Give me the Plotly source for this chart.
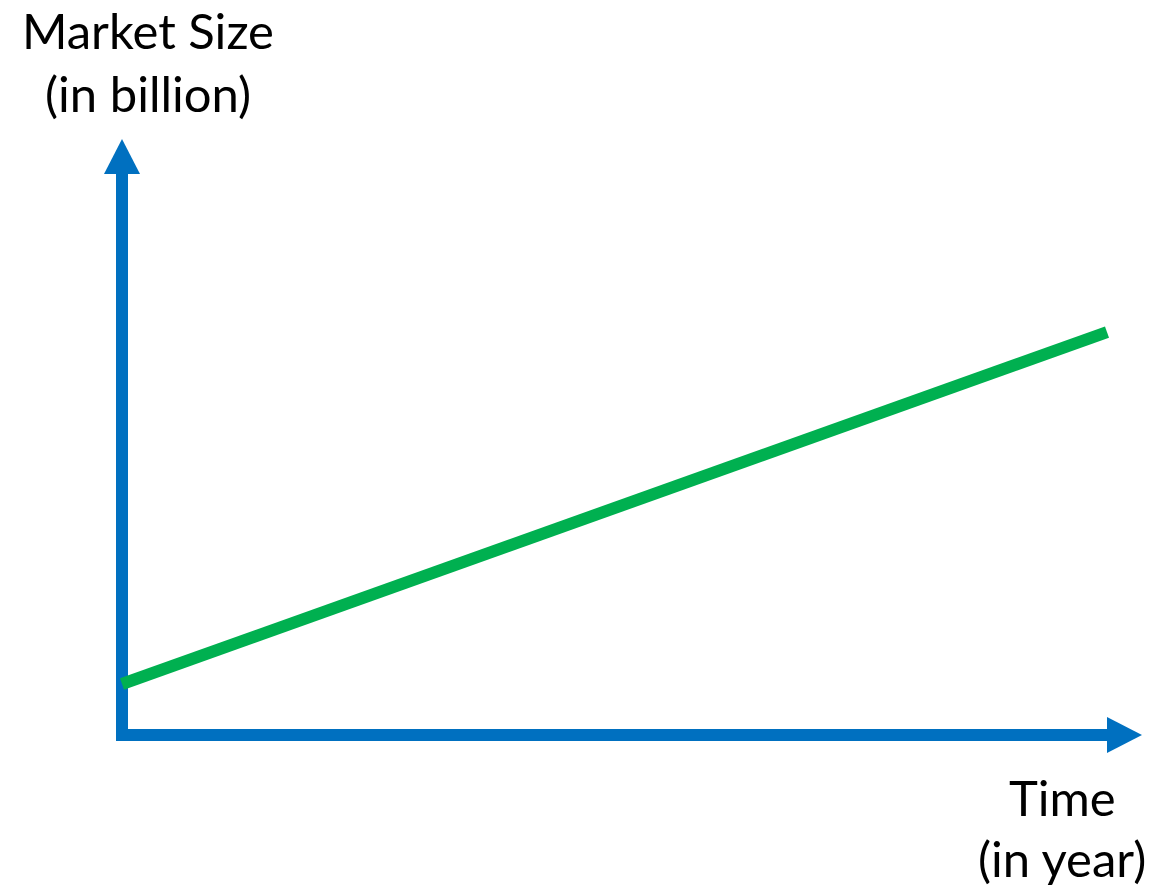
import plotly.graph_objects as go

# Data
time_years = [0, 10]
market_size = [1, 7.9]
y_label_lines = ["Market Size", "(in billion)"]
x_label_lines = ["Time", "(in year)"]

W, H = 1168, 889
# scale (pixels per data unit) and origin position
PX_X = 98.5
PX_Y = 51.0
ORIG_PX = (122, 735)
x_range = [-ORIG_PX[0] / PX_X, (W - ORIG_PX[0]) / PX_X]
y_range = [-(H - ORIG_PX[1]) / PX_Y, ORIG_PX[1] / PX_Y]

BLUE = "#0070C0"
GREEN = "#00B050"

X_END = 10.0   # arrow base on time axis
Y_END = 11.0   # arrow base on market size axis
AX_W = 12      # axis thickness px
HEAD_L = 35    # arrowhead length px
HEAD_HW = 18   # arrowhead half width px

hx = AX_W / 2 / PX_X
hy = AX_W / 2 / PX_Y

shapes = [
    # vertical axis
    dict(type="rect", xref="x", yref="y", x0=-hx, x1=hx, y0=-hy, y1=Y_END,
         fillcolor=BLUE, line=dict(width=0), layer="below"),
    # horizontal axis
    dict(type="rect", xref="x", yref="y", x0=-hx, x1=X_END, y0=-hy, y1=hy,
         fillcolor=BLUE, line=dict(width=0), layer="below"),
    # up arrowhead
    dict(type="path", xref="x", yref="y",
         path=f"M {-HEAD_HW/PX_X} {Y_END} L {HEAD_HW/PX_X} {Y_END} L 0 {Y_END + HEAD_L/PX_Y} Z",
         fillcolor=BLUE, line=dict(width=0), layer="below"),
    # right arrowhead
    dict(type="path", xref="x", yref="y",
         path=f"M {X_END} {-HEAD_HW/PX_Y} L {X_END} {HEAD_HW/PX_Y} L {X_END + HEAD_L/PX_X} 0 Z",
         fillcolor=BLUE, line=dict(width=0), layer="below"),
]

fig = go.Figure()
fig.add_trace(go.Scatter(x=time_years, y=market_size, mode="lines",
                         line=dict(color=GREEN, width=12), hoverinfo="skip",
                         showlegend=False))

FONT = dict(family="Lato, Carlito, Calibri, sans-serif", size=49, color="#000000")
annotations = [
    dict(text=y_label_lines[0], x=148 / W, y=1 - 30 / H, xref="paper", yref="paper",
         showarrow=False, font=FONT, xanchor="center", yanchor="middle"),
    dict(text=y_label_lines[1], x=148 / W, y=1 - 93 / H, xref="paper", yref="paper",
         showarrow=False, font=FONT, xanchor="center", yanchor="middle"),
    dict(text=x_label_lines[0], x=1062 / W, y=1 - 797 / H, xref="paper", yref="paper",
         showarrow=False, font=FONT, xanchor="center", yanchor="middle"),
    dict(text=x_label_lines[1], x=1062 / W, y=1 - 858 / H, xref="paper", yref="paper",
         showarrow=False, font=FONT, xanchor="center", yanchor="middle"),
]

fig.update_layout(
    width=W, height=H,
    margin=dict(l=0, r=0, t=0, b=0),
    paper_bgcolor="white", plot_bgcolor="white",
    xaxis=dict(range=x_range, visible=False, fixedrange=True),
    yaxis=dict(range=y_range, visible=False, fixedrange=True),
    shapes=shapes,
    annotations=annotations,
)

fig.write_html("out.html")
